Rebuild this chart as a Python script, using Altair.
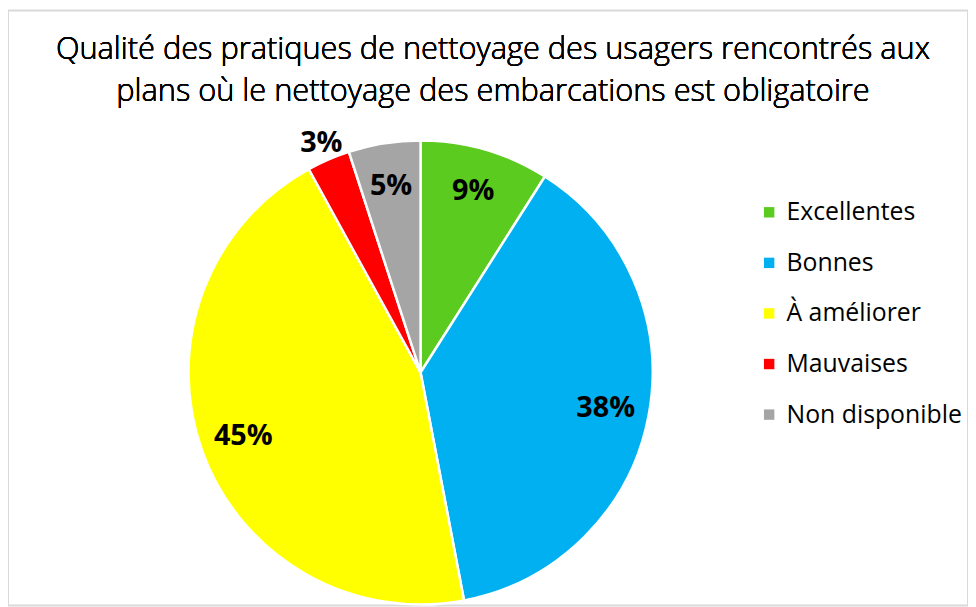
import altair as alt
import pandas as pd

categories = ["Excellentes", "Bonnes", "À améliorer", "Mauvaises", "Non disponible"]
values = [9, 38, 45, 3, 5]
colors = ["#5BCB1F", "#00B0F0", "#FFFF00", "#FF0000", "#A5A5A5"]
title_lines = [
    "Qualité des pratiques de nettoyage des usagers rencontrés aux",
    "plans où le nettoyage des embarcations est obligatoire",
]

df = pd.DataFrame({
    "cat": categories,
    "value": values,
    "idx": list(range(len(categories))),
})

FONT = "Open Sans"
CX, CY, R = 416, 365, 234

base = alt.Chart(df).encode(
    theta=alt.Theta("value:Q", stack=True),
    order=alt.Order("idx:Q"),
)

pie = base.mark_arc(outerRadius=R, stroke="white", strokeWidth=2.5).encode(
    x=alt.value(CX),
    y=alt.value(CY),
    color=alt.Color(
        "cat:N",
        scale=alt.Scale(domain=categories, range=colors),
        sort=categories,
        legend=alt.Legend(
            title=None,
            orient="none",
            legendX=755,
            legendY=191,
            symbolType="square",
            symbolSize=110,
            symbolStrokeWidth=0,
            labelFont=FONT,
            labelFontSize=25,
            labelColor="#000000",
            labelLimit=400,
            labelOffset=5,
            rowPadding=25,
        ),
    ),
)

inside = base.transform_calculate(
    lbl="datum.value == 3 ? '' : datum.value + '%'"
).mark_text(
    radius=190, font=FONT, fontSize=29, fontWeight="bold", color="#000000"
).encode(x=alt.value(CX), y=alt.value(CY), text="lbl:N")

outside = base.transform_calculate(
    lbl="datum.value == 3 ? datum.value + '%' : ''"
).mark_text(
    radius=252, font=FONT, fontSize=29, fontWeight="bold", color="#000000"
).encode(x=alt.value(CX), y=alt.value(CY), text="lbl:N")

t1 = alt.Chart(df).mark_text(
    text=title_lines[0], font=FONT, fontSize=31, fontWeight=300,
    color="#000000", baseline="middle"
).encode(x=alt.value(489), y=alt.value(40))
t2 = alt.Chart(df).mark_text(
    text=title_lines[1], font=FONT, fontSize=31, fontWeight=300,
    color="#000000", baseline="middle"
).encode(x=alt.value(489), y=alt.value(82))

chart = alt.layer(pie, inside, outside, t1, t2).properties(
    width=968, height=600, autosize=alt.AutoSizeParams(type="none"), padding=0,
    background="white",
).configure_view(stroke="#D9D9D9", strokeWidth=2)

chart.save("out.html", embed_options={"renderer": "svg", "actions": False})
